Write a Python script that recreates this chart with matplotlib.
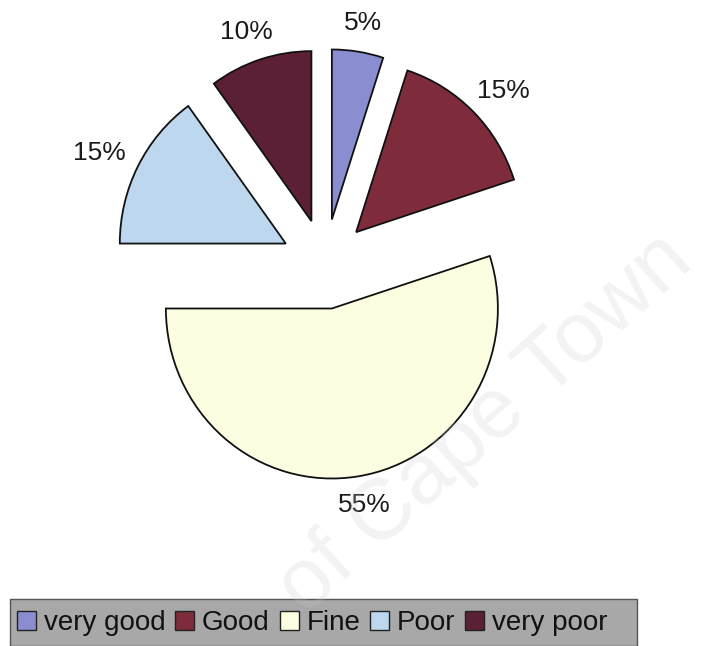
import numpy as np
import matplotlib
matplotlib.use("Agg")
import matplotlib.pyplot as plt
from matplotlib.patches import Rectangle

plt.rcParams['font.family'] = ['Liberation Sans', 'DejaVu Sans']

categories = ["very good", "Good", "Fine", "Poor", "very poor"]
shares = [5, 15, 55, 15, 10]
colors = ["#8a8ed0", "#7e2b3c", "#fdfde2", "#bcd7ee", "#5b1f36"]

W, H = 709, 646
fig = plt.figure(figsize=(W / 100, H / 100), dpi=100)
fig.patch.set_facecolor("white")

# axes spanning the whole figure; pie centre sits at (325, 264) px
ax = fig.add_axes([0, 0, 1, 1])
cx, cy, rx, ry = 325, 264, 166, 170
explode = 0.265

wedges, _ = ax.pie(
    shares,
    colors=colors,
    startangle=90,
    counterclock=False,
    explode=[explode] * len(shares),
    wedgeprops=dict(edgecolor="#111111", linewidth=1.3),
    frame=True,
)
ax.set_xlim(-cx / rx, (W - cx) / rx)
ax.set_ylim(-(H - cy) / ry, cy / ry)
ax.set_aspect("auto")
ax.axis("off")

# percentage labels: the label edge nearest the slice sits at a fixed gap
renderer = fig.canvas.get_renderer()
for w, v in zip(wedges, shares):
    theta = np.deg2rad((w.theta1 + w.theta2) / 2)
    dx, dy = np.cos(theta), np.sin(theta)
    reach = explode + 1.10
    probe = ax.text(0, 0, f"{v}%", fontsize=19)
    bb = probe.get_window_extent(renderer)
    probe.remove()
    ax.annotate(f"{v}%", xy=(dx * reach, dy * reach),
                xytext=(dx * bb.width / 2, dy * bb.height / 2),
                textcoords="offset pixels", ha="center", va="center",
                fontsize=19, color="#1a1a1a")

# legend band along the bottom
fig.patches.append(Rectangle((10 / W, 0), 627 / W, 47 / H, transform=fig.transFigure,
                             facecolor="#a8a8a8", edgecolor="#555555", linewidth=1.0,
                             zorder=1))
leg = fig.legend(wedges, categories, loc="center left", bbox_to_anchor=(17 / W, 1 - 623 / H),
                 ncol=5, frameon=False, fontsize=20, handlelength=0.68, handleheight=0.68,
                 handletextpad=0.28, columnspacing=0.36, borderpad=0, borderaxespad=0)
for h in leg.legend_handles:
    h.set_edgecolor("#222222")
    h.set_linewidth(1.0)
for t in leg.get_texts():
    t.set_color("#111111")

# faint watermark across the page
fig.text(485 / W, 1 - 425 / H, "of Cape Town", rotation=42, fontsize=62,
         color="#c8c8c8", alpha=0.22, ha="center", va="center", zorder=10)

fig.savefig("out.png", dpi=100, facecolor="white")
